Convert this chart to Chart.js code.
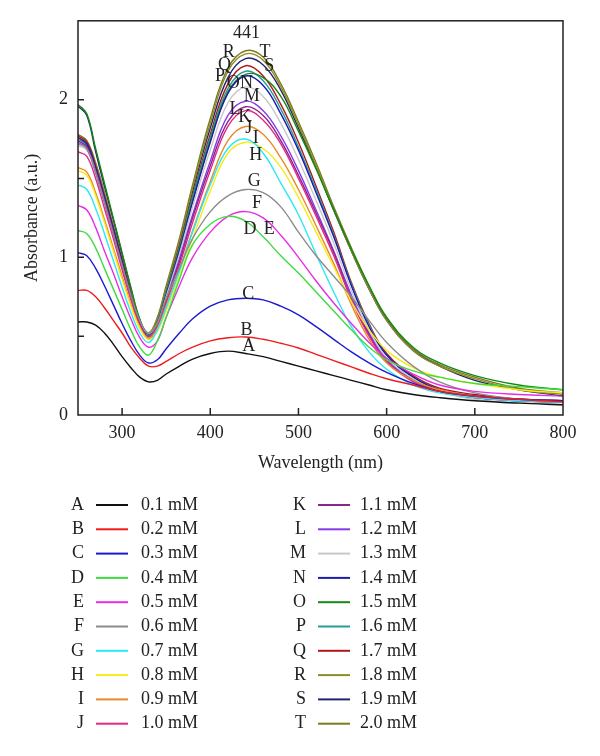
<!DOCTYPE html>
<html>
<head>
<meta charset="utf-8">
<script src="https://cdn.jsdelivr.net/npm/chart.js@4.4.1/dist/chart.umd.min.js"></script>
<style>
  html, body { margin: 0; padding: 0; background: #fff; }
  #wrap { width: 600px; height: 756px; }
</style>
</head>
<body>
<div id="wrap"><canvas id="uvChart" width="600" height="756"></canvas></div>
<script>
// wavelength grid (nm) shared by every spectrum
const wavelength = [250, 260, 270, 280, 290, 300, 310, 320, 330, 340, 350, 365, 380, 400, 420, 440,
                    460, 480, 500, 520, 540, 560, 580, 600, 630, 660, 700, 750, 800];

const letters = ['A', 'B', 'C', 'D', 'E', 'F', 'G', 'H', 'I', 'J',
                 'K', 'L', 'M', 'N', 'O', 'P', 'Q', 'R', 'S', 'T'];
const concentrations = ['0.1 mM', '0.2 mM', '0.3 mM', '0.4 mM', '0.5 mM', '0.6 mM', '0.7 mM', '0.8 mM', '0.9 mM', '1.0 mM',
                        '1.1 mM', '1.2 mM', '1.3 mM', '1.4 mM', '1.5 mM', '1.6 mM', '1.7 mM', '1.8 mM', '1.9 mM', '2.0 mM'];
const colors = ['#111111', '#ee1c1c', '#1a1ad0', '#3fdc3f', '#e62ee6', '#8c8c8c', '#2ae8f4', '#f6ec1a', '#e88a2a', '#e0288c',
                '#8a268a', '#8a3ae8', '#c8c8c8', '#1c1cb0', '#148a14', '#2a9a9a', '#b01818', '#8c8c26', '#24246e', '#7c7c1c'];

// absorbance (a.u.) per concentration
const absA = [0.59, 0.59, 0.57, 0.52, 0.45, 0.37, 0.30, 0.24, 0.21, 0.22, 0.26, 0.31, 0.355, 0.39, 0.405, 0.39,
              0.37, 0.34, 0.31, 0.28, 0.25, 0.22, 0.19, 0.16, 0.13, 0.11, 0.09, 0.075, 0.065];
const absB = [0.79, 0.79, 0.75, 0.68, 0.60, 0.52, 0.43, 0.36, 0.31, 0.31, 0.34, 0.39, 0.43, 0.47, 0.49, 0.495,
              0.48, 0.455, 0.425, 0.385, 0.345, 0.305, 0.265, 0.23, 0.19, 0.15, 0.12, 0.10, 0.085];
const absC = [1.03, 1.01, 0.93, 0.82, 0.70, 0.58, 0.47, 0.38, 0.33, 0.35, 0.42, 0.52, 0.61, 0.69, 0.73, 0.74,
              0.73, 0.69, 0.635, 0.56, 0.48, 0.40, 0.33, 0.27, 0.20, 0.15, 0.12, 0.10, 0.09];
const absD = [1.17, 1.15, 1.06, 0.93, 0.80, 0.67, 0.54, 0.43, 0.38, 0.47, 0.62, 0.86, 1.08, 1.21, 1.26, 1.23,
              1.13, 1.01, 0.90, 0.78, 0.66, 0.54, 0.43, 0.35, 0.28, 0.24, 0.20, 0.18, 0.16];
const absE = [1.33, 1.30, 1.19, 1.04, 0.90, 0.75, 0.61, 0.49, 0.43, 0.47, 0.62, 0.82, 1.00, 1.16, 1.26, 1.29,
              1.25, 1.14, 1.00, 0.85, 0.71, 0.58, 0.46, 0.36, 0.26, 0.19, 0.15, 0.13, 0.12];
const absF = [1.72, 1.69, 1.54, 1.35, 1.15, 0.95, 0.76, 0.60, 0.52, 0.58, 0.74, 0.93, 1.12, 1.29, 1.39, 1.43,
              1.41, 1.32, 1.16, 1.01, 0.88, 0.75, 0.60, 0.46, 0.31, 0.21, 0.14, 0.10, 0.08];
const absG = [1.46, 1.43, 1.31, 1.15, 0.98, 0.81, 0.65, 0.52, 0.46, 0.54, 0.68, 0.91, 1.16, 1.46, 1.69, 1.75,
              1.66, 1.47, 1.27, 1.02, 0.78, 0.56, 0.40, 0.29, 0.19, 0.14, 0.11, 0.09, 0.08];
const absH = [1.55, 1.52, 1.39, 1.22, 1.04, 0.86, 0.69, 0.55, 0.48, 0.53, 0.66, 0.88, 1.12, 1.42, 1.66, 1.73,
              1.69, 1.57, 1.38, 1.16, 0.94, 0.72, 0.54, 0.41, 0.30, 0.24, 0.20, 0.16, 0.14];
const absI = [1.57, 1.54, 1.41, 1.24, 1.06, 0.88, 0.70, 0.56, 0.49, 0.55, 0.69, 0.92, 1.17, 1.48, 1.74, 1.83,
              1.78, 1.63, 1.43, 1.20, 0.96, 0.70, 0.48, 0.33, 0.22, 0.16, 0.12, 0.10, 0.09];
const absJ = [1.67, 1.64, 1.50, 1.31, 1.12, 0.92, 0.73, 0.57, 0.48, 0.56, 0.71, 0.95, 1.22, 1.55, 1.83, 1.93,
              1.87, 1.72, 1.50, 1.26, 1.01, 0.73, 0.50, 0.34, 0.21, 0.15, 0.11, 0.09, 0.08];
const absK = [1.74, 1.70, 1.55, 1.36, 1.16, 0.95, 0.75, 0.58, 0.49, 0.56, 0.72, 0.97, 1.25, 1.58, 1.86, 1.955,
              1.90, 1.74, 1.52, 1.28, 1.03, 0.74, 0.51, 0.34, 0.22, 0.15, 0.11, 0.09, 0.08];
const absL = [1.73, 1.69, 1.54, 1.35, 1.15, 0.95, 0.75, 0.58, 0.50, 0.57, 0.73, 0.99, 1.27, 1.61, 1.90, 1.99,
              1.93, 1.77, 1.55, 1.30, 1.04, 0.76, 0.52, 0.35, 0.22, 0.15, 0.11, 0.09, 0.08];
const absM = [1.71, 1.68, 1.53, 1.34, 1.14, 0.94, 0.75, 0.59, 0.52, 0.58, 0.75, 1.02, 1.32, 1.68, 1.98, 2.08,
              2.02, 1.85, 1.62, 1.36, 1.09, 0.79, 0.54, 0.36, 0.23, 0.15, 0.10, 0.08, 0.065];
const absN = [1.76, 1.72, 1.57, 1.38, 1.18, 0.97, 0.76, 0.58, 0.49, 0.58, 0.76, 1.04, 1.35, 1.73, 2.04, 2.15,
              2.09, 1.91, 1.68, 1.41, 1.13, 0.82, 0.56, 0.38, 0.24, 0.16, 0.12, 0.10, 0.09];
const absO = [1.97, 1.91, 1.69, 1.47, 1.25, 1.03, 0.81, 0.61, 0.51, 0.58, 0.77, 1.05, 1.36, 1.74, 2.05, 2.16,
              2.14, 2.02, 1.80, 1.56, 1.30, 1.05, 0.82, 0.62, 0.43, 0.33, 0.25, 0.19, 0.16];
const absP = [1.75, 1.71, 1.56, 1.37, 1.17, 0.96, 0.76, 0.58, 0.50, 0.59, 0.78, 1.06, 1.38, 1.76, 2.07, 2.18,
              2.12, 1.94, 1.70, 1.43, 1.14, 0.83, 0.57, 0.38, 0.24, 0.16, 0.12, 0.10, 0.09];
const absQ = [1.77, 1.73, 1.58, 1.39, 1.19, 0.98, 0.77, 0.59, 0.50, 0.59, 0.78, 1.07, 1.39, 1.78, 2.10, 2.215,
              2.15, 1.97, 1.73, 1.45, 1.16, 0.84, 0.58, 0.39, 0.25, 0.17, 0.13, 0.10, 0.09];
const absR = [1.76, 1.72, 1.59, 1.40, 1.19, 0.98, 0.78, 0.60, 0.52, 0.61, 0.81, 1.10, 1.44, 1.85, 2.18, 2.29,
              2.25, 2.08, 1.84, 1.58, 1.30, 1.04, 0.80, 0.60, 0.41, 0.31, 0.23, 0.16, 0.13];
const absS = [1.96, 1.90, 1.67, 1.45, 1.24, 1.02, 0.80, 0.60, 0.50, 0.60, 0.80, 1.09, 1.42, 1.82, 2.14, 2.26,
              2.22, 2.06, 1.82, 1.57, 1.30, 1.04, 0.80, 0.60, 0.41, 0.31, 0.22, 0.16, 0.12];
const absT = [1.78, 1.74, 1.60, 1.41, 1.20, 0.99, 0.78, 0.60, 0.52, 0.62, 0.82, 1.12, 1.46, 1.88, 2.20, 2.31,
              2.27, 2.10, 1.86, 1.60, 1.32, 1.06, 0.82, 0.61, 0.42, 0.32, 0.24, 0.17, 0.14];

const series = [absA, absB, absC, absD, absE, absF, absG, absH, absI, absJ,
                absK, absL, absM, absN, absO, absP, absQ, absR, absS, absT];

const xTicks = [300, 400, 500, 600, 700, 800];
const yTicks = [0, 0.5, 1, 1.5, 2];

// letters written on the curves, placed in data units
const curveLabelText = ['441', 'R', 'T', 'Q', 'S', 'P', 'O', 'N', 'M', 'L', 'K', 'J', 'I', 'H', 'G', 'F', 'D', 'E', 'C', 'B', 'A'];
const curveLabelWl = [441, 421, 462, 416, 467, 411, 426, 441, 447, 428, 439, 443.5, 451.5, 451.5, 450, 453, 445, 467, 443, 441, 443.5];
const curveLabelAbs = [2.42, 2.30, 2.30, 2.22, 2.21, 2.15, 2.105, 2.105, 2.02, 1.937, 1.89, 1.82, 1.757, 1.65, 1.484, 1.34, 1.176, 1.176, 0.765, 0.538, 0.433];

const serif = '"Liberation Serif", "DejaVu Serif", serif';
const ink = '#222';

const datasets = series.map((vals, i) => ({
  label: letters[i],
  data: vals.map((v, k) => ({ x: wavelength[k], y: v })),
  borderColor: colors[i],
  borderWidth: 1.4,
  pointRadius: 0,
  fill: false,
  tension: 0.4
}));

const decorations = {
  id: 'decorations',
  afterDatasetsDraw(chart) {
    const { ctx, chartArea: a } = chart;
    const x = chart.scales.x, y = chart.scales.y;
    ctx.save();
    ctx.strokeStyle = ink;
    ctx.lineWidth = 1.5;
    ctx.strokeRect(a.left, a.top, a.right - a.left, a.bottom - a.top);

    // ticks point into the plot
    ctx.beginPath();
    xTicks.forEach(v => {
      if (v === 800) return;
      const px = x.getPixelForValue(v);
      ctx.moveTo(px, a.bottom);
      ctx.lineTo(px, a.bottom - 7);
    });
    yTicks.forEach(v => {
      if (v === 0) return;
      const py = y.getPixelForValue(v);
      ctx.moveTo(a.left, py);
      ctx.lineTo(a.left + 6, py);
    });
    ctx.stroke();

    // curve letters
    ctx.fillStyle = ink;
    ctx.font = '18px ' + serif;
    ctx.textAlign = 'center';
    ctx.textBaseline = 'middle';
    curveLabelText.forEach((t, i) => {
      ctx.fillText(t, x.getPixelForValue(curveLabelWl[i]), y.getPixelForValue(curveLabelAbs[i]));
    });

    // two-column legend under the plot
    chart.data.datasets.forEach((ds, i) => {
      const col = i < 10 ? 0 : 1;
      const row = i % 10;
      const ly = 505 + row * 24.3;
      const letterRight = col ? 306 : 84;
      const lineStart = col ? 318 : 96;
      const lineEnd = col ? 350 : 128;
      const textLeft = col ? 360 : 141;
      ctx.textAlign = 'right';
      ctx.fillText(ds.label, letterRight, ly);
      ctx.strokeStyle = ds.borderColor;
      ctx.lineWidth = 2;
      ctx.beginPath();
      ctx.moveTo(lineStart, ly);
      ctx.lineTo(lineEnd, ly);
      ctx.stroke();
      ctx.textAlign = 'left';
      ctx.fillText(concentrations[i], textLeft, ly);
    });
    ctx.restore();
  }
};

new Chart(document.getElementById('uvChart'), {
  type: 'line',
  data: { datasets: datasets },
  options: {
    responsive: false,
    animation: false,
    devicePixelRatio: 1,
    layout: { padding: { left: 0, top: 20, right: 37, bottom: 281 } },
    plugins: { legend: { display: false }, tooltip: { enabled: false } },
    scales: {
      x: {
        type: 'linear',
        min: 250,
        max: 800,
        afterBuildTicks: scale => { scale.ticks = xTicks.map(v => ({ value: v })); },
        afterFit: scale => { scale.height = 60; },
        grid: { display: false, drawTicks: false },
        border: { display: false },
        ticks: { padding: 7, color: ink, font: { family: serif, size: 18 }, maxRotation: 0 },
        title: { display: true, text: 'Wavelength (nm)', color: ink, font: { family: serif, size: 18 }, padding: { top: 0, bottom: 1 } }
      },
      y: {
        type: 'linear',
        min: 0,
        max: 2.5,
        afterBuildTicks: scale => { scale.ticks = yTicks.map(v => ({ value: v })); },
        afterFit: scale => { scale.width = 78; },
        grid: { display: false, drawTicks: false },
        border: { display: false },
        ticks: {
          padding: 10,
          color: ink,
          font: { family: serif, size: 18 },
          callback: v => (Number.isInteger(v) ? String(v) : '')
        },
        title: { display: true, text: 'Absorbance (a.u.)', color: ink, font: { family: serif, size: 18 }, padding: { top: 21, bottom: 0 } }
      }
    }
  },
  plugins: [decorations]
});
</script>
</body>
</html>
